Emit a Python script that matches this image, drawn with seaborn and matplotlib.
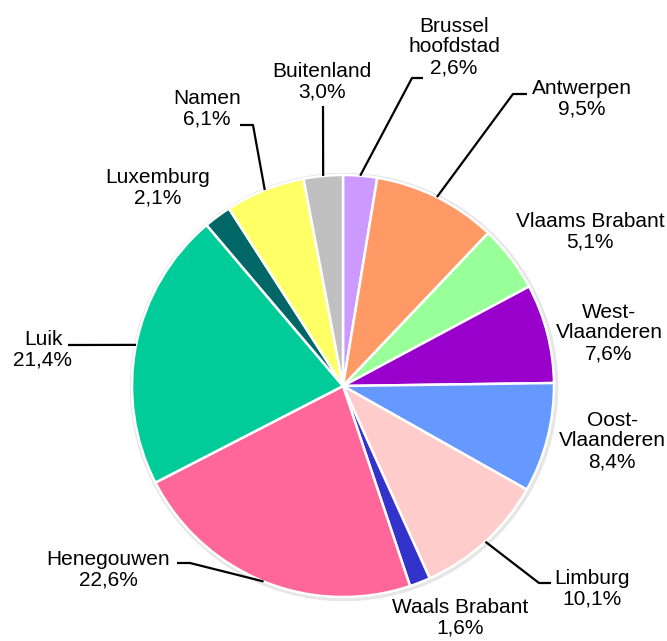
import matplotlib
matplotlib.use("Agg")
import matplotlib.pyplot as plt
import numpy as np
import seaborn as sns

# provinces, clockwise from the top
regions = ["Brussel\nhoofdstad", "Antwerpen", "Vlaams Brabant", "West-\nVlaanderen",
           "Oost-\nVlaanderen", "Limburg", "Waals Brabant", "Henegouwen", "Luik",
           "Luxemburg", "Namen", "Buitenland"]
shares = [2.6, 9.5, 5.1, 7.6, 8.4, 10.1, 1.6, 22.6, 21.4, 2.1, 6.1, 3.0]
colors = ["#CC99FF", "#FF9966", "#99FF99", "#9900CC", "#6699FF", "#FFCCCC",
          "#3333CC", "#FF6699", "#00CC99", "#006666", "#FFFF66", "#C0C0C0"]

# label centres (pixels from top-left) and leader elbows (None = no leader)
label_pos = [(454, 47), (582, 99), (590, 232), (609, 333), (612, 441), (592, 589),
             (460, 618), (108, 570), (43, 350), (158, 188), (207, 109), (322, 82)]
elbows = [[(412, 78), (423, 78)], [(513, 94), (527, 94)], None, None, None,
          [(539, 583), (551, 583)], None, [(190, 563), (177, 563)],
          [(68, 345)], None, [(253, 125), (240, 125)], [(323, 106)]]

W, H = 667, 641
cx, cy, r = 343, 386, 211

sns.set_theme(style="white")
plt.rcParams['font.family'] = ['Liberation Sans', 'DejaVu Sans']

fig = plt.figure(figsize=(W / 100, H / 100), dpi=100)
ax = fig.add_axes([0, 0, 1, 1])

# faint shadow
ax.add_patch(plt.Circle((cx + 1, H - cy - 1), r + 2.5, color="#e6e6e6", zorder=0))

wedges, _ = ax.pie(shares, colors=colors, startangle=90, counterclock=False,
                   radius=r, center=(cx, H - cy), frame=True,
                   wedgeprops=dict(edgecolor="white", linewidth=1.8))
ax.set_xlim(0, W)
ax.set_ylim(0, H)
ax.set_aspect("equal")
ax.axis("off")

total = sum(shares)
cum = 0
for name, val, pos, elb in zip(regions, shares, label_pos, elbows):
    mid = cum + val / 2
    cum += val
    ang = np.deg2rad(90 - 360 * mid / total)
    txt = "%s\n%s%%" % (name, ("%.1f" % val).replace(".", ","))
    ax.text(pos[0], H - pos[1], txt, ha="center", va="center", fontsize=15,
            linespacing=1.12, color="black")
    if elb is not None:
        xs = [cx + r * np.cos(ang)] + [p[0] for p in elb]
        ys = [H - cy + r * np.sin(ang)] + [H - p[1] for p in elb]
        ax.plot(xs, ys, color="black", lw=1.6, solid_capstyle="butt")

fig.savefig("out.png", dpi=100)
